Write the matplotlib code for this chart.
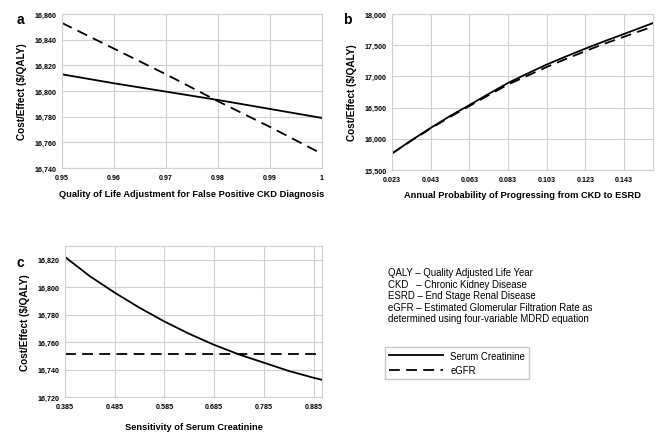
import matplotlib
matplotlib.use("Agg")
import matplotlib.pyplot as plt
from matplotlib.lines import Line2D
from matplotlib.ticker import FuncFormatter

plt.rcParams["font.family"] = ["Liberation Sans", "DejaVu Sans"]

# panel a: quality of life adjustment for false positive CKD diagnosis
qol_x = [0.95, 0.96, 0.97, 0.98, 0.99, 1.0]
qol_scr = [16813, 16806, 16799.5, 16793, 16786, 16779]
qol_egfr = [16853, 16833, 16813, 16792, 16772, 16751]
qol_ticks = [0.95, 0.96, 0.97, 0.98, 0.99, 1.0]
qol_ticklabels = ["0.95", "0.96", "0.97", "0.98", "0.99", "1"]

# panel b: annual probability of progressing from CKD to ESRD
prog_x = [0.023, 0.033, 0.043, 0.053, 0.063, 0.073, 0.083, 0.093, 0.103,
          0.113, 0.123, 0.133, 0.143, 0.158]
prog_scr = [15765, 15975, 16175, 16365, 16540, 16720, 16895, 17045, 17190,
            17320, 17445, 17565, 17680, 17855]
prog_egfr = [15765, 15970, 16165, 16350, 16525, 16700, 16870, 17010, 17150,
             17280, 17405, 17525, 17635, 17800]
prog_ticks = [0.023, 0.043, 0.063, 0.083, 0.103, 0.123, 0.143]

# panel c: sensitivity of serum creatinine
sens_x = [0.385, 0.435, 0.485, 0.535, 0.585, 0.635, 0.685, 0.735, 0.785,
          0.835, 0.885, 0.902]
sens_scr = [16822, 16808, 16796, 16785, 16775, 16766, 16758, 16751, 16745,
            16739, 16734, 16732.5]
sens_egfr = [16751] * len(sens_x)
sens_ticks = [0.385, 0.485, 0.585, 0.685, 0.785, 0.885]

abbrev = ("QALY \u2013 Quality Adjusted Life Year\n"
          "CKD   \u2013 Chronic Kidney Disease\n"
          "ESRD \u2013 End Stage Renal Disease\n"
          "eGFR \u2013 Estimated Glomerular Filtration Rate as\n"
          "determined using four-variable MDRD equation")

W, H = 660, 435
GRID = "#d0d0d0"


def px_axes(fig, left, top, right, bottom):
    return fig.add_axes([left / W, 1 - bottom / H, (right - left) / W, (bottom - top) / H])


def style(ax, xlabel, xpad=6):
    ax.grid(True, color=GRID, linewidth=0.8)
    ax.set_axisbelow(True)
    for s in ax.spines.values():
        s.set_color(GRID)
        s.set_linewidth(0.8)
    ax.tick_params(length=0, labelsize=5.1, pad=4)
    for lab in ax.get_xticklabels() + ax.get_yticklabels():
        lab.set_fontweight("bold")
    ax.yaxis.set_major_formatter(FuncFormatter(lambda v, p: f"{v:,.0f}"))
    ax.set_xlabel(xlabel, fontsize=6.7, fontweight="bold", labelpad=xpad)
    ax.set_ylabel("Cost/Effect ($/QALY)", fontsize=7.2, fontweight="bold", labelpad=5)


fig = plt.figure(figsize=(6.6, 4.35), dpi=100)
solid = dict(color="black", linewidth=1.3)
dashed = dict(color="black", linewidth=1.3, dashes=(6, 3.5))

ax = px_axes(fig, 62, 15, 322, 169)
ax.plot(qol_x, qol_scr, **solid)
ax.plot(qol_x, qol_egfr, **dashed)
ax.set_xlim(0.95, 1.0)
ax.set_ylim(16740, 16860)
ax.set_xticks(qol_ticks)
ax.set_xticklabels(qol_ticklabels)
ax.set_yticks(range(16740, 16861, 20))
style(ax, "Quality of Life Adjustment for False Positive CKD Diagnosis")

ax = px_axes(fig, 392, 15, 653, 171)
ax.plot(prog_x, prog_scr, **solid)
ax.plot(prog_x, prog_egfr, **dashed)
ax.set_xlim(0.023, 0.158)
ax.set_ylim(15500, 18000)
ax.set_xticks(prog_ticks)
ax.set_xticklabels([f"{t:.3f}" for t in prog_ticks])
ax.set_yticks(range(15500, 18001, 500))
style(ax, "Annual Probability of Progressing from CKD to ESRD", xpad=5)

ax = px_axes(fig, 65, 247, 322, 398)
ax.plot(sens_x, sens_scr, **solid)
ax.plot(sens_x, sens_egfr, **dashed)
ax.set_xlim(0.385, 0.902)
ax.set_ylim(16720, 16830)
ax.set_xticks(sens_ticks)
ax.set_xticklabels([f"{t:.3f}" for t in sens_ticks])
ax.set_yticks(range(16720, 16821, 20))
style(ax, "Sensitivity of Serum Creatinine", xpad=9)

for lab, x, y in [("a", 20, 20), ("b", 347, 20), ("c", 20, 263)]:
    fig.text(x / W, 1 - y / H, lab, fontsize=10, fontweight="bold", ha="center", va="center")

fig.text(388 / W, 1 - 268 / H, abbrev, fontsize=6.9, ha="left", va="top", linespacing=1.2)

handles = [Line2D([], [], **solid), Line2D([], [], **dashed)]
fig.legend(handles, ["Serum Creatinine", "eGFR"], loc="upper left",
           bbox_to_anchor=(385 / W, 1 - 348 / H), fontsize=6.9, frameon=True,
           fancybox=False, edgecolor="#bbbbbb", handlelength=5.6,
           borderaxespad=0, borderpad=0.4, labelspacing=0.45, handletextpad=0.8)

fig.savefig("out.png", dpi=100)
